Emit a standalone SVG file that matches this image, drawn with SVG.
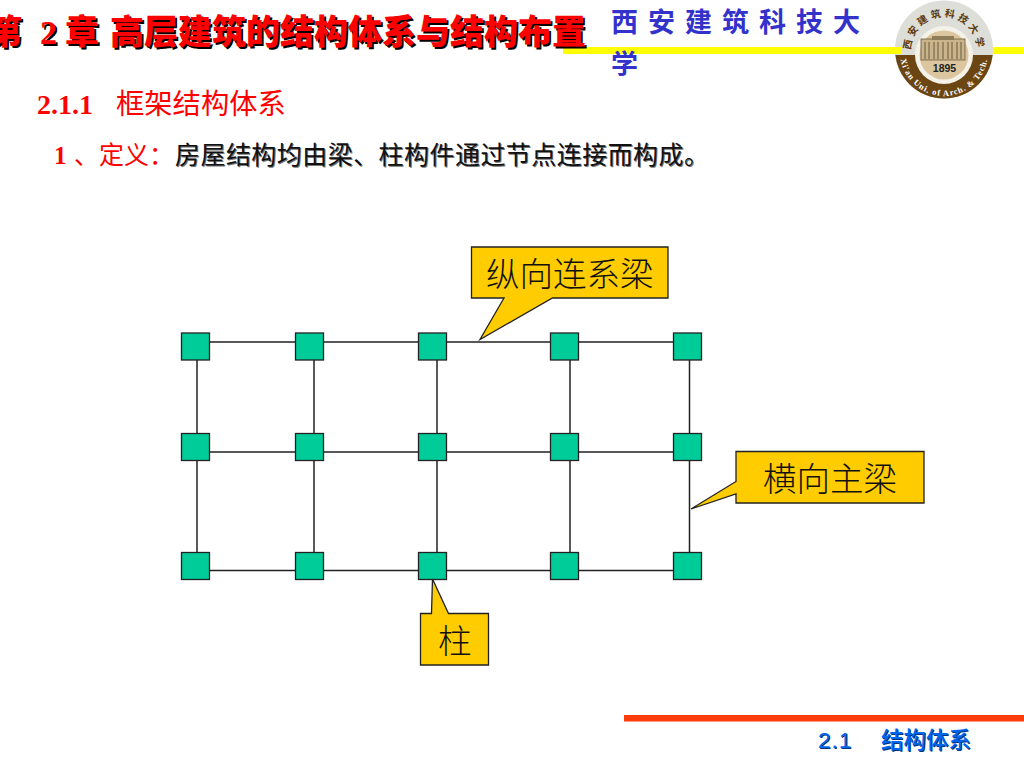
<svg xmlns="http://www.w3.org/2000/svg" width="1024" height="768" viewBox="0 0 1024 768">
<style>
text{font-family:"Noto Sans CJK SC","Liberation Sans",sans-serif}
.ser{font-family:"Liberation Serif","Noto Sans CJK SC",serif;font-weight:700}
.title{font-size:34px;font-weight:900;fill:#ff0000;text-shadow:2px 2px 0 #000}
.sub{font-size:28.300px;fill:#ff0000}
.num{font-size:28px;fill:#ff0000}
.def{font-size:25px;fill:#ff0000}
.body{font-size:25px;letter-spacing:.45px;fill:#111;text-shadow:1px 1px 0 #777}
.school{font-size:27px;font-weight:700;fill:#3333cc}
.foot{font-size:22.5px;font-weight:500;fill:#0066ee;text-shadow:1px 1px 0 #003377}
.nd{fill:#00cc99;stroke:#222;stroke-width:1.3}
.call{fill:#ffcc00;stroke:#222;stroke-width:1.3}
.ctext{font-size:33.5px;fill:#111;font-weight:300}
.beam{stroke:#222;stroke-width:1.5;fill:none}
.lgt{font-family:"Liberation Serif",serif;font-size:8.500px;font-weight:700;fill:#fff;letter-spacing:.9px}
.lgc{font-size:10px;font-weight:700;fill:#5a3a10;letter-spacing:3px}
</style>
<defs>
<path id="arcTop" d="M911 50A33 33 0 0 1 977 50"/>
<path id="arcBot" d="M900 52A44 44 0 0 0 988 52"/>
<clipPath id="lowHalf"><rect x="890" y="55" width="110" height="50"/></clipPath>
</defs>

<g id="header">
<rect x="563" y="47" width="461" height="7" fill="#ffff00"/>
<text class="title" y="44"><tspan x="-12">第</tspan><tspan class="ser" x="40">2</tspan><tspan x="65">章</tspan><tspan x="110">高层建筑的结构体系与结构布置</tspan></text>
<text class="school" y="32" x="611" letter-spacing="10">西安建筑科技大</text>
<text class="school" y="74" x="611">学</text>
</g>

<g id="logo">
<circle cx="944" cy="49.500" r="49" fill="#deded8"/>
<circle cx="944" cy="49.500" r="49" fill="#6b4512" clip-path="url(#lowHalf)"/>
<rect x="895" y="47" width="7" height="7" fill="#ffff00"/>
<circle cx="944" cy="55" r="29" fill="#f4f1e8"/>
<circle cx="944" cy="55" r="24.500" fill="#dcc69f"/>
<rect x="921" y="39" width="44" height="21" fill="#c9b48c" stroke="#6b5a3a" stroke-width="0.8"/>
<rect x="932" y="36" width="22" height="4" fill="#8f7c58"/>
<path d="M925 42V59M929 42V59M934 42V59M938 42V59M943 42V59M948 42V59M952 42V59M957 42V59M961 42V59" stroke="#6b5a3a" stroke-width="1" fill="none"/>
<text x="944.500" y="72" text-anchor="middle" font-size="10.500" style="font-family:'Liberation Sans',sans-serif" fill="#222" font-weight="700">1895</text>
<text class="lgc"><textPath href="#arcTop">西安建筑科技大学</textPath></text>
<text class="lgt" text-anchor="middle"><textPath href="#arcBot" startOffset="50%">Xi'an Uni. of Arch. &amp; Tech.</textPath></text>
</g>

<g id="headings">
<text y="114"><tspan class="ser num" x="37">2.1.1</tspan><tspan class="sub" x="116">框架结构体系</tspan></text>
<text y="164"><tspan class="ser def" x="54">1 </tspan><tspan class="def" x="74">、定义：</tspan></text>
<text class="body" x="175" y="164">房屋结构均由梁、柱构件通过节点连接而构成。</text>
</g>

<g id="connectors">
<path class="beam" d="M197 342H689M197 452H689M197 570.500H689M197 342V570M314 342V570M437 342V570M570 342V570M689.500 342V570"/>
</g>

<g id="nodes">
<g id="n11"><rect class="nd" x="181.500" y="333" width="28" height="27"/></g>
<g id="n12"><rect class="nd" x="295.500" y="333" width="28" height="27"/></g>
<g id="n13"><rect class="nd" x="418.500" y="333" width="28" height="27"/></g>
<g id="n14"><rect class="nd" x="550.500" y="333" width="28" height="27"/></g>
<g id="n15"><rect class="nd" x="673.500" y="333" width="28" height="27"/></g>
<g id="n21"><rect class="nd" x="181.500" y="433.500" width="28" height="27"/></g>
<g id="n22"><rect class="nd" x="295.500" y="433.500" width="28" height="27"/></g>
<g id="n23"><rect class="nd" x="418.500" y="433.500" width="28" height="27"/></g>
<g id="n24"><rect class="nd" x="550.500" y="433.500" width="28" height="27"/></g>
<g id="n25"><rect class="nd" x="673.500" y="433.500" width="28" height="27"/></g>
<g id="n31"><rect class="nd" x="181.500" y="552.500" width="28" height="27"/></g>
<g id="n32"><rect class="nd" x="295.500" y="552.500" width="28" height="27"/></g>
<g id="n33"><rect class="nd" x="418.500" y="552.500" width="28" height="27"/></g>
<g id="n34"><rect class="nd" x="550.500" y="552.500" width="28" height="27"/></g>
<g id="n35"><rect class="nd" x="673.500" y="552.500" width="28" height="27"/></g>
</g>

<g id="callout-long">
<path class="call" d="M471.500 247H668V298H552.500L480 339.500L504 298H471.500Z"/>
<text class="ctext" x="486" y="286">纵向连系梁</text>
</g>
<g id="callout-trans">
<path class="call" d="M736 451.500H924V503H736V494L691 509L736 481.500Z"/>
<text class="ctext" x="763" y="491">横向主梁</text>
</g>
<g id="callout-col">
<path class="call" d="M420.500 613.500H431.500L432.500 579L448.500 613.500H488.500V665H420.500Z"/>
<text class="ctext" x="438" y="653">柱</text>
</g>

<g id="footer">
<rect x="624" y="715" width="400" height="6.500" fill="#ff3c0a"/>
<text class="foot" y="748"><tspan x="818" style="font-family:'Liberation Sans',sans-serif" letter-spacing="1">2.1</tspan><tspan x="881">结构体系</tspan></text>
</g>
</svg>
